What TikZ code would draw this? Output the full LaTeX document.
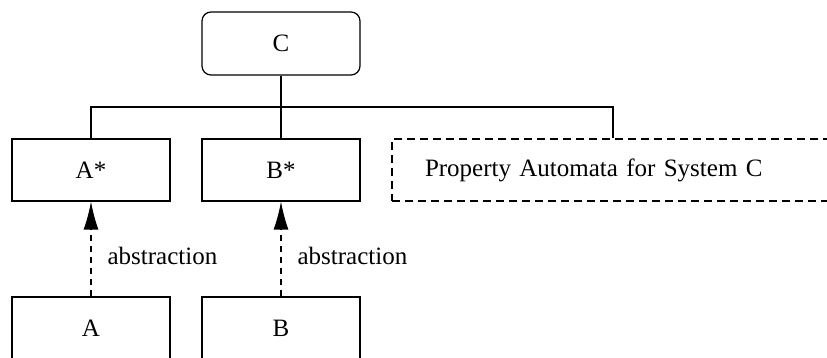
\documentclass[tikz,border=0pt]{standalone}
\usepackage{fontspec}
\setmainfont{Liberation Serif}
\usetikzlibrary{arrows.meta}

\begin{document}
\begin{tikzpicture}[x=1pt,y=1pt,line width=1.2pt,
    font=\fontsize{25}{30}\selectfont,
    box/.style={draw,minimum width=158pt,minimum height=62pt,inner sep=0pt},
    dashbox/.style={box,dash pattern=on 8pt off 5pt},
    absarrow/.style={dash pattern=on 6.5pt off 4.5pt,-{Latex[length=28pt,width=15pt]}},
    lab/.style={inner sep=0pt,anchor=base west}]

    \clip (0,0) rectangle (827,358);

    \node[box,rounded corners=9pt,minimum height=63pt] (sysC) at (281,314.5) {C};

    \node[box] (absA) at (91,188) {A*};
    \node[box] (absB) at (281,188) {B*};
    \node[dashbox,minimum width=442pt,text width=376pt,inner xsep=33pt,align=left] (prop) at (613,188) {Property Automata for System C};

    \node[box] (sysA) at (91,30) {A};
    \node[box] (sysB) at (281,30) {B};

    % bus from C to the three boxes
    \coordinate (bus) at (281,251);
    \draw (sysC.south) -- (absB.north);
    \draw (absA.north) -- (absA.north |- bus) -- (prop.north |- bus) -- (prop.north);

    \draw[absarrow] (sysA.north) -- (absA.south);
    \draw[absarrow] (sysB.north) -- (absB.south);

    \node[lab] (labA) at (107,93) {abstraction};
    \node[lab] (labB) at (297,93) {abstraction};

  \end{tikzpicture}
\end{document}
